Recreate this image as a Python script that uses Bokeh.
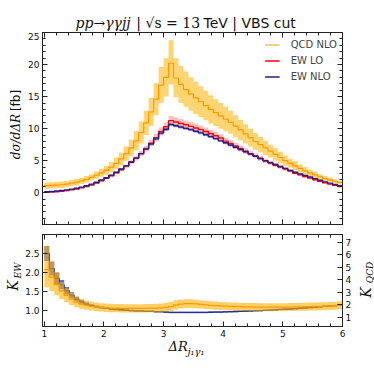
import numpy as np
from math import pi
from bokeh.plotting import figure
from bokeh.models import (ColumnDataSource, Range1d, LinearAxis, FixedTicker, Legend,
                          LegendItem, Label, PrintfTickFormatter)
from bokeh.layouts import column, row
from bokeh.embed import file_html
from bokeh.resources import INLINE

# ---------------- data ----------------
x_min, x_max, n_bins = 1.0, 6.0, 60

qcd_nlo = [1.1, 1.15, 1.2, 1.25, 1.35, 1.5, 1.65, 1.85, 2.1, 2.4, 2.75, 3.1,
           3.5, 4.0, 4.6, 5.3, 6.1, 7.0, 8.1, 9.4, 10.9, 12.6, 14.6, 16.8,
           18.0, 20.2, 17.9, 16.9, 16.1, 15.4, 14.8, 14.2, 13.6, 13.0, 12.5, 12.0,
           11.5, 11.0, 10.4, 9.8, 9.2, 8.6, 8.0, 7.5, 7.0, 6.5, 6.0, 5.5,
           5.0, 4.6, 4.2, 3.8, 3.4, 3.1, 2.8, 2.5, 2.2, 2.0, 1.8, 1.6]
qcd_nlo_hi = [1.6, 1.65, 1.7, 1.75, 1.85, 2.0, 2.15, 2.35, 2.6, 2.9, 3.3, 3.7,
              4.2, 4.8, 5.5, 6.3, 7.2, 8.3, 9.6, 11.1, 12.8, 14.8, 17.1, 19.6,
              21.0, 23.8, 21.0, 19.8, 18.9, 18.0, 17.3, 16.6, 15.9, 15.2, 14.6, 14.0,
              13.4, 12.8, 12.1, 11.4, 10.7, 10.0, 9.3, 8.7, 8.1, 7.5, 7.0, 6.4,
              5.8, 5.3, 4.9, 4.4, 4.0, 3.6, 3.3, 2.9, 2.6, 2.4, 2.1, 1.9]
qcd_nlo_lo = [0.6, 0.65, 0.7, 0.75, 0.85, 1.0, 1.15, 1.35, 1.6, 1.9, 2.2, 2.5,
              2.8, 3.2, 3.7, 4.3, 5.0, 5.7, 6.6, 7.7, 9.0, 10.4, 12.1, 14.0,
              15.0, 16.9, 14.9, 14.0, 13.4, 12.8, 12.3, 11.8, 11.3, 10.8, 10.4, 10.0,
              9.6, 9.2, 8.7, 8.2, 7.7, 7.2, 6.7, 6.3, 5.9, 5.5, 5.0, 4.6,
              4.2, 3.9, 3.5, 3.2, 2.8, 2.6, 2.3, 2.1, 1.8, 1.7, 1.5, 1.3]

ew_lo = [0.06, 0.1, 0.16, 0.24, 0.33, 0.45, 0.58, 0.76, 0.97, 1.22, 1.52, 1.87,
         2.25, 2.65, 3.1, 3.6, 4.15, 4.75, 5.4, 6.1, 6.9, 7.75, 8.6, 9.55,
         10.3, 11.25, 11.05, 10.8, 10.6, 10.35, 10.1, 9.85, 9.55, 9.2, 8.9, 8.55,
         8.05, 7.7, 7.3, 6.9, 6.5, 6.1, 5.75, 5.35, 5.0, 4.65, 4.3, 4.0,
         3.7, 3.38, 3.05, 2.8, 2.53, 2.28, 2.03, 1.78, 1.54, 1.35, 1.16, 0.97]
ew_lo_err = [0.01, 0.01, 0.02, 0.02, 0.03, 0.03, 0.04, 0.05, 0.07, 0.08, 0.1, 0.12,
             0.14, 0.17, 0.2, 0.23, 0.27, 0.31, 0.35, 0.4, 0.45, 0.5, 0.56, 0.62,
             0.67, 0.73, 0.72, 0.7, 0.69, 0.67, 0.66, 0.64, 0.62, 0.6, 0.58, 0.56,
             0.53, 0.51, 0.48, 0.46, 0.44, 0.41, 0.39, 0.36, 0.34, 0.32, 0.29, 0.27,
             0.25, 0.23, 0.21, 0.19, 0.17, 0.16, 0.14, 0.12, 0.11, 0.09, 0.08, 0.07]

ew_nlo = [0.15, 0.2, 0.27, 0.35, 0.45, 0.57, 0.7, 0.88, 1.1, 1.35, 1.65, 2.0,
          2.35, 2.75, 3.2, 3.7, 4.2, 4.8, 5.4, 6.1, 6.8, 7.6, 8.4, 9.3,
          9.9, 10.65, 10.45, 10.25, 10.05, 9.85, 9.6, 9.35, 9.05, 8.75, 8.45, 8.1,
          7.8, 7.45, 7.1, 6.75, 6.4, 6.05, 5.7, 5.35, 5.0, 4.7, 4.4, 4.1,
          3.8, 3.5, 3.2, 2.95, 2.7, 2.45, 2.2, 1.95, 1.7, 1.5, 1.3, 1.1]
ew_nlo_err = [0.01, 0.01, 0.01, 0.01, 0.01, 0.02, 0.02, 0.02, 0.03, 0.03, 0.04, 0.05,
              0.06, 0.07, 0.08, 0.09, 0.1, 0.12, 0.13, 0.15, 0.17, 0.19, 0.21, 0.23,
              0.25, 0.27, 0.26, 0.26, 0.25, 0.25, 0.24, 0.23, 0.23, 0.22, 0.21, 0.2,
              0.2, 0.19, 0.18, 0.17, 0.16, 0.15, 0.14, 0.13, 0.13, 0.12, 0.11, 0.1,
              0.1, 0.09, 0.08, 0.07, 0.07, 0.06, 0.06, 0.05, 0.04, 0.04, 0.03, 0.03]

k_ew = [2.5, 2.1, 1.85, 1.68, 1.52, 1.4, 1.3, 1.23, 1.17, 1.13, 1.1, 1.08,
        1.06, 1.04, 1.03, 1.02, 1.01, 1.0, 0.99, 0.99, 0.98, 0.98, 0.97, 0.97,
        0.96, 0.95, 0.95, 0.95, 0.95, 0.95, 0.95, 0.95, 0.95, 0.955, 0.96, 0.96,
        0.965, 0.97, 0.975, 0.98, 0.985, 0.99, 0.995, 1.0, 1.005, 1.01, 1.02, 1.03,
        1.035, 1.04, 1.05, 1.06, 1.07, 1.08, 1.09, 1.1, 1.11, 1.12, 1.13, 1.14]
k_ew_err = [0.2, 0.18, 0.15, 0.12, 0.1, 0.08, 0.06, 0.05, 0.04, 0.035, 0.03, 0.025,
            0.02, 0.02, 0.02, 0.02, 0.02, 0.02, 0.02, 0.02, 0.02, 0.02, 0.02, 0.02,
            0.02, 0.02, 0.02, 0.02, 0.02, 0.02, 0.02, 0.02, 0.02, 0.02, 0.02, 0.02,
            0.02, 0.02, 0.02, 0.02, 0.02, 0.02, 0.02, 0.02, 0.02, 0.02, 0.02, 0.02,
            0.02, 0.02, 0.02, 0.02, 0.02, 0.02, 0.02, 0.02, 0.02, 0.02, 0.02, 0.02]

k_qcd = [4.8, 4.2, 3.6, 3.1, 2.75, 2.45, 2.2, 2.05, 1.95, 1.87, 1.82, 1.78,
         1.75, 1.73, 1.72, 1.71, 1.7, 1.7, 1.7, 1.7, 1.71, 1.72, 1.73, 1.75,
         1.78, 1.85, 1.98, 2.05, 2.08, 2.08, 2.06, 2.02, 1.98, 1.95, 1.92, 1.9,
         1.88, 1.86, 1.85, 1.84, 1.83, 1.82, 1.81, 1.8, 1.8, 1.8, 1.8, 1.8,
         1.8, 1.81, 1.82, 1.83, 1.84, 1.85, 1.86, 1.87, 1.88, 1.9, 1.92, 1.95]
k_qcd_hi = [6.7, 5.5, 4.6, 3.8, 3.3, 2.95, 2.65, 2.45, 2.32, 2.23, 2.17, 2.12,
            2.09, 2.07, 2.06, 2.05, 2.04, 2.04, 2.04, 2.04, 2.05, 2.06, 2.07, 2.09,
            2.13, 2.22, 2.36, 2.42, 2.44, 2.43, 2.4, 2.36, 2.32, 2.28, 2.25, 2.22,
            2.2, 2.18, 2.17, 2.16, 2.15, 2.14, 2.13, 2.12, 2.12, 2.12, 2.12, 2.12,
            2.12, 2.13, 2.14, 2.15, 2.16, 2.17, 2.18, 2.19, 2.2, 2.22, 2.24, 2.27]
k_qcd_lo = [3.4, 3.1, 2.75, 2.45, 2.2, 1.98, 1.8, 1.68, 1.6, 1.53, 1.49, 1.45,
            1.42, 1.4, 1.39, 1.38, 1.37, 1.37, 1.37, 1.37, 1.38, 1.39, 1.4, 1.42,
            1.45, 1.5, 1.62, 1.7, 1.74, 1.74, 1.72, 1.7, 1.66, 1.63, 1.6, 1.58,
            1.56, 1.54, 1.53, 1.52, 1.51, 1.5, 1.49, 1.48, 1.48, 1.48, 1.48, 1.48,
            1.48, 1.49, 1.5, 1.51, 1.52, 1.53, 1.54, 1.55, 1.56, 1.58, 1.6, 1.63]

x_ticks = [1, 2, 3, 4, 5, 6]
y_ticks_main = [0, 5, 10, 15, 20, 25]
k_ew_ticks = [1.0, 1.5, 2.0, 2.5]
k_qcd_ticks = [1, 2, 3, 4, 5, 6, 7]
series_labels = ["QCD NLO", "EW LO", "EW NLO"]

# ---------------- build ----------------
edges = np.linspace(x_min, x_max, n_bins + 1)


def ext(a):
    a = np.asarray(a, dtype=float)
    return np.append(a, a[-1])


src = ColumnDataSource(dict(
    x=edges,
    qcd=ext(qcd_nlo), qcd_hi=ext(qcd_nlo_hi), qcd_lo=ext(qcd_nlo_lo),
    lo=ext(ew_lo), lo_hi=ext(ew_lo) + ext(ew_lo_err), lo_lo=ext(ew_lo) - ext(ew_lo_err),
    nlo=ext(ew_nlo), nlo_hi=ext(ew_nlo) + ext(ew_nlo_err), nlo_lo=ext(ew_nlo) - ext(ew_nlo_err),
    kew=ext(k_ew), kew_hi=ext(k_ew) + ext(k_ew_err), kew_lo=ext(k_ew) - ext(k_ew_err),
    kq=ext(k_qcd), kq_hi=ext(k_qcd_hi), kq_lo=ext(k_qcd_lo),
))

X0, X1 = 0.97, 6.0
x_minor = list(np.round(np.arange(1.0, 6.001, 0.2), 3))
y_minor = list(range(-4, 26))

INK = "#222222"
ORANGE = "#ff9900"
BAND_O = "#ffb000"

LEFT_W, AX_L, FRAME_W, AX_R, RIGHT_W = 22, 18, 300, 9, 22
TOTAL_W = LEFT_W + AX_L + FRAME_W + AX_R + RIGHT_W


def style_axis(ax, show_labels=True):
    ax.major_tick_in = 5
    ax.major_tick_out = 0
    ax.minor_tick_in = 3
    ax.minor_tick_out = 0
    ax.axis_line_color = INK
    ax.major_tick_line_color = INK
    ax.minor_tick_line_color = INK
    ax.major_label_text_font = "DejaVu Sans"
    if show_labels:
        ax.major_label_text_color = "#111111"
        ax.major_label_text_font_size = "9px"
        ax.major_label_standoff = 3
    else:
        ax.major_label_text_color = None
        ax.major_label_text_font_size = "1px"
        ax.major_label_standoff = 0


def text_fig(w, h):
    f = figure(width=w, height=h, x_range=Range1d(0, w), y_range=Range1d(h, 0),
               x_axis_location=None, y_axis_location=None, toolbar_location=None,
               output_backend="svg", min_border=0)
    f.title.visible = False
    f.grid.visible = False
    f.outline_line_color = None
    return f


def add_label(p, x, y, text, size, font="DejaVu Sans", style="normal", angle=0.0,
              align="left", baseline="middle"):
    p.add_layout(Label(x=x, y=y, text=text, text_font_size=size, text_font=font,
                       text_font_style=style, angle=angle, text_align=align,
                       text_baseline=baseline, text_color="#111111"))


# ---------- top panel ----------
p1 = figure(frame_width=FRAME_W, frame_height=192, x_range=Range1d(X0, X1),
            y_range=Range1d(-4.95, 25), output_backend="svg", toolbar_location=None,
            min_border_left=AX_L, min_border_right=AX_R, min_border_top=0, min_border_bottom=5)
p1.title.visible = False
p1.xgrid.visible = False
p1.ygrid.visible = False
p1.outline_line_color = INK

p1.xaxis[0].ticker = FixedTicker(ticks=x_ticks, minor_ticks=x_minor)
style_axis(p1.xaxis[0], False)
p1.yaxis[0].ticker = FixedTicker(ticks=y_ticks_main, minor_ticks=y_minor)
style_axis(p1.yaxis[0], True)
ax_top = LinearAxis(ticker=FixedTicker(ticks=x_ticks, minor_ticks=x_minor))
style_axis(ax_top, False)
p1.add_layout(ax_top, "above")
ax_right = LinearAxis(ticker=FixedTicker(ticks=y_ticks_main, minor_ticks=y_minor))
style_axis(ax_right, False)
p1.add_layout(ax_right, "right")

p1.varea_step(x="x", y1="qcd_lo", y2="qcd_hi", step_mode="after", source=src,
              fill_color=BAND_O, fill_alpha=0.55)
p1.varea_step(x="x", y1="lo_lo", y2="lo_hi", step_mode="after", source=src,
              fill_color="#ff2020", fill_alpha=0.28)
p1.varea_step(x="x", y1="nlo_lo", y2="nlo_hi", step_mode="after", source=src,
              fill_color="#4040b0", fill_alpha=0.35)
r_qcd = p1.step(x="x", y="qcd", mode="after", source=src, line_color=ORANGE, line_width=1.2)
r_lo = p1.step(x="x", y="lo", mode="after", source=src, line_color="#ff0000", line_width=1.4)
r_nlo = p1.step(x="x", y="nlo", mode="after", source=src, line_color="#1f1f8f", line_width=1.4)

legend = Legend(items=[LegendItem(label=series_labels[0], renderers=[r_qcd]),
                       LegendItem(label=series_labels[1], renderers=[r_lo]),
                       LegendItem(label=series_labels[2], renderers=[r_nlo])],
                location="top_right", border_line_color=None, background_fill_alpha=0,
                label_text_font="DejaVu Sans", label_text_font_size="10px",
                glyph_width=15, glyph_height=15, label_height=15, spacing=1,
                label_standoff=11, padding=2, margin=5)
p1.add_layout(legend)

# ---------- ratio panel ----------
p2 = figure(frame_width=FRAME_W, frame_height=92, x_range=p1.x_range,
            y_range=Range1d(0.58, 3.0), output_backend="svg", toolbar_location=None,
            min_border_left=AX_L, min_border_right=AX_R, min_border_top=5, min_border_bottom=14)
p2.title.visible = False
p2.extra_y_ranges = {"kq": Range1d(0.26, 7.6)}
p2.xgrid.visible = False
p2.ygrid.visible = False
p2.outline_line_color = INK

p2.xaxis[0].ticker = FixedTicker(ticks=x_ticks, minor_ticks=x_minor)
style_axis(p2.xaxis[0], True)
p2.yaxis[0].ticker = FixedTicker(ticks=k_ew_ticks)
p2.yaxis[0].formatter = PrintfTickFormatter(format="%.1f")
style_axis(p2.yaxis[0], True)
p2.yaxis[0].minor_tick_line_color = None
ax2_top = LinearAxis(ticker=FixedTicker(ticks=x_ticks, minor_ticks=x_minor))
style_axis(ax2_top, False)
p2.add_layout(ax2_top, "above")
ax2_right = LinearAxis(y_range_name="kq", ticker=FixedTicker(ticks=k_qcd_ticks))
style_axis(ax2_right, True)
ax2_right.minor_tick_line_color = None
p2.add_layout(ax2_right, "right")

p2.varea_step(x="x", y1="kew_lo", y2="kew_hi", step_mode="after", source=src,
              fill_color="#3350c8", fill_alpha=0.8)
p2.step(x="x", y="kew", mode="after", source=src, line_color="#26308a", line_width=1.3)
p2.varea_step(x="x", y1="kq_lo", y2="kq_hi", step_mode="after", source=src,
              fill_color=BAND_O, fill_alpha=0.6, y_range_name="kq")
p2.step(x="x", y="kq", mode="after", source=src, line_color=ORANGE, line_width=1.2,
        y_range_name="kq")

# ---------- text strips (title, axis labels) ----------
panel_h = 197 + 111

title_fig = text_fig(TOTAL_W, 32)
add_label(title_fig, 75, 22, "pp→γγjj", "14px", "DejaVu Serif", "italic")
add_label(title_fig, 138, 22, "|", "14px", "DejaVu Sans", align="center")
add_label(title_fig, 145, 22, "√s = 13", "14px", "DejaVu Serif")
add_label(title_fig, 203, 22, "TeV | VBS cut", "14px", "DejaVu Sans")

left_fig = text_fig(LEFT_W, panel_h)
add_label(left_fig, 15, 104, "dσ/dΔR", "12px", "DejaVu Serif", "italic", angle=pi / 2, align="center")
add_label(left_fig, 15, 68, "[fb]", "12px", "DejaVu Sans", angle=pi / 2, align="center")
add_label(left_fig, 12, 253, "K", "14px", "DejaVu Serif", "italic", angle=pi / 2, align="center")
add_label(left_fig, 17.5, 238, "EW", "9px", "DejaVu Serif", "italic", angle=pi / 2, align="center")

right_fig = text_fig(RIGHT_W, panel_h)
add_label(right_fig, 11, 260, "K", "14px", "DejaVu Serif", "italic", angle=pi / 2, align="center")
add_label(right_fig, 15, 240, "QCD", "9px", "DejaVu Serif", "italic", angle=pi / 2, align="center")

xlabel_fig = text_fig(TOTAL_W, 20)
add_label(xlabel_fig, 168, 6, "ΔR", "13px", "DejaVu Serif", "italic")
add_label(xlabel_fig, 187, 11, "j₁γ₁", "10px", "DejaVu Serif", "italic")

layout = column(title_fig,
                row(left_fig, column(p1, p2, spacing=0), right_fig, spacing=0),
                xlabel_fig, spacing=0)
open("out.html", "w").write(file_html(layout, INLINE))
